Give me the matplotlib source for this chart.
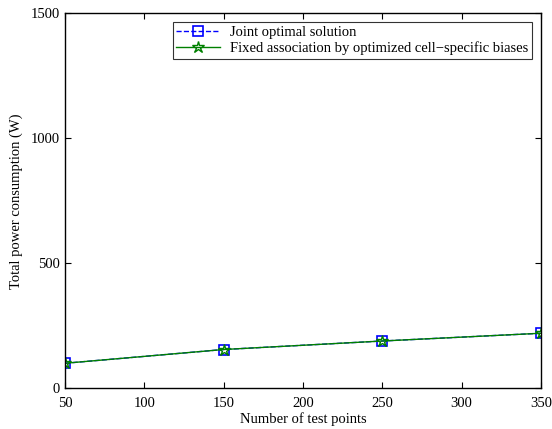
import matplotlib
matplotlib.use('Agg')
import matplotlib.pyplot as plt

plt.rcParams['font.family'] = ['Liberation Serif', 'DejaVu Serif']

test_points = [50, 150, 250, 350]
joint_power = [100, 155, 189, 220]
fixed_power = [100, 155, 189, 220]

fig = plt.figure(figsize=(5.52, 4.29), dpi=100)
ax = fig.add_axes([0.118, 0.095, 0.862, 0.874])

ax.plot(test_points, joint_power, '--s', color='blue', markerfacecolor='none',
        markersize=7, markeredgewidth=1.2, linewidth=1, label='Joint optimal solution')
ax.plot(test_points, fixed_power, '-*', color='green', markerfacecolor='none',
        markersize=9, markeredgewidth=1.0, linewidth=1,
        label='Fixed association by optimized cell\u2212specific biases')

ax.set_xlim(50, 350)
ax.set_ylim(0, 1500)
ax.set_xticks([50, 100, 150, 200, 250, 300, 350])
ax.set_yticks([0, 500, 1000, 1500])
ax.tick_params(direction='in', top=True, right=True, labelsize=10.5, length=4)
ax.tick_params(axis='x', pad=6)
ax.tick_params(axis='y', pad=4)
for s in ax.spines.values():
    s.set_linewidth(1.0)
ax.set_xlabel('Number of test points', fontsize=10.5, labelpad=2)
ax.set_ylabel('Total power consumption (W)', fontsize=10.5, labelpad=5)

leg = ax.legend(loc='upper right', fontsize=10.5, fancybox=False, edgecolor='black',
                borderpad=0.25, labelspacing=0.15, handlelength=3.0, handletextpad=0.7,
                borderaxespad=0.6)
leg.get_frame().set_linewidth(0.8)

fig.savefig('out.png', dpi=100)
